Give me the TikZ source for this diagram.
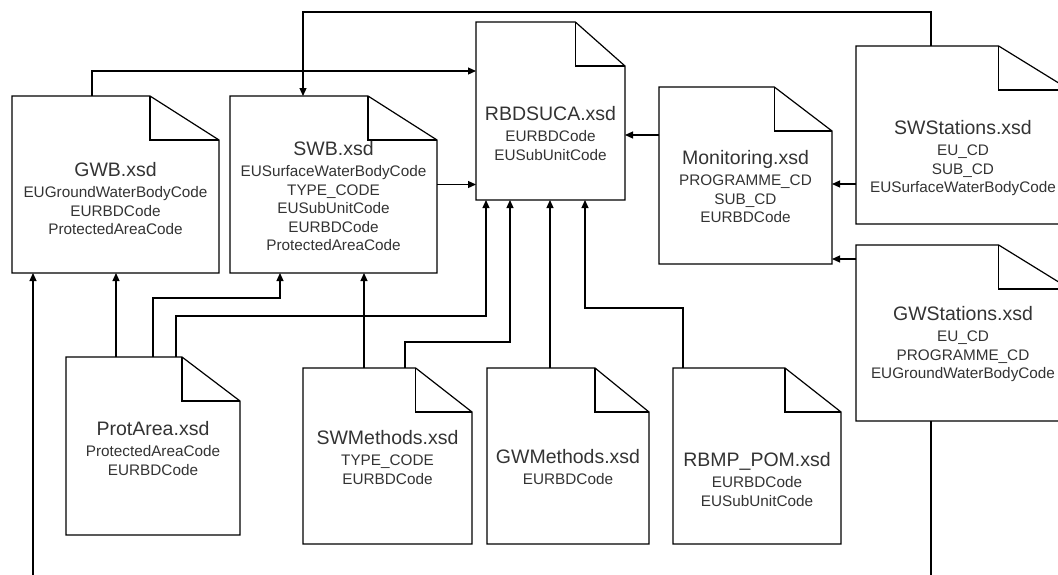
\documentclass[tikz,border=0pt]{standalone}
\usepackage{fontspec}
\setmainfont{Liberation Sans}
\usepackage{xcolor}
\usepackage{tikz}
\usetikzlibrary{arrows.meta,calc}
\definecolor{txtgray}{HTML}{333333}
\newcommand{\xsdname}[1]{{\fontsize{19.5}{18.5}\selectfont #1}}

\begin{document}
\begin{tikzpicture}[x=1pt, y=-1pt, >={Triangle[length=8pt,width=7pt]}, line width=1.2pt,
  doc/.style={draw=none,inner sep=0pt,outer sep=0pt},
  xsdtext/.style={anchor=north,align=center,inner sep=0pt,text=txtgray,font=\fontsize{15.3}{18.5}\selectfont}]
\clip (0,0) rectangle (1058,574);
% document boxes
\node[doc,minimum width=207,minimum height=177] (gwb) at (115.5,184.5) {};
\node[doc,minimum width=207,minimum height=177] (swb) at (333.5,184.5) {};
\node[doc,minimum width=149,minimum height=178] (rbd) at (550.5,111) {};
\node[doc,minimum width=173,minimum height=177] (mon) at (745.5,175.5) {};
\node[doc,minimum width=214,minimum height=178] (sws) at (963,135) {};
\node[doc,minimum width=214,minimum height=176] (gws) at (963,333) {};
\node[doc,minimum width=174,minimum height=178] (prot) at (153,446) {};
\node[doc,minimum width=169,minimum height=176] (swm) at (387.5,456) {};
\node[doc,minimum width=162,minimum height=176] (gwm) at (568,456) {};
\node[doc,minimum width=168,minimum height=176] (rbmp) at (757,456) {};
\foreach \n in {gwb,swb,rbd,mon,sws,gws,prot,swm,gwm,rbmp}{
  \draw (\n.south west) -- (\n.north west) -- ($(\n.north west)!2/3!(\n.north east)$) coordinate (f)
    -- ([yshift=-44pt]\n.north east) -- (\n.south east) -- cycle;
  \draw (f) |- ([yshift=-44pt]\n.north east);
}
% texts
\node[xsdtext] (gwb-t) at (115.5,162) {\xsdname{GWB.xsd}\\[2.5pt]EUGroundWaterBodyCode\\EURBDCode\\ProtectedAreaCode};
\node[xsdtext] (swb-t) at (333.5,141) {\xsdname{SWB.xsd}\\[2.5pt]EUSurfaceWaterBodyCode\\TYPE\_CODE\\EUSubUnitCode\\EURBDCode\\ProtectedAreaCode};
\node[xsdtext] (rbd-t) at (550.5,106) {\xsdname{RBDSUCA.xsd}\\[2.5pt]EURBDCode\\EUSubUnitCode};
\node[xsdtext] (mon-t) at (745.5,150) {\xsdname{Monitoring.xsd}\\[2.5pt]PROGRAMME\_CD\\SUB\_CD\\EURBDCode};
\node[xsdtext] (sws-t) at (963,120) {\xsdname{SWStations.xsd}\\[2.5pt]EU\_CD\\SUB\_CD\\EUSurfaceWaterBodyCode};
\node[xsdtext] (gws-t) at (963,306) {\xsdname{GWStations.xsd}\\[2.5pt]EU\_CD\\PROGRAMME\_CD\\EUGroundWaterBodyCode};
\node[xsdtext] (prot-t) at (153,421) {\xsdname{ProtArea.xsd}\\[2.5pt]ProtectedAreaCode\\EURBDCode};
\node[xsdtext] (swm-t) at (387.5,430) {\xsdname{SWMethods.xsd}\\[2.5pt]TYPE\_CODE\\EURBDCode};
\node[xsdtext] (gwm-t) at (568,449) {\xsdname{GWMethods.xsd}\\[2.5pt]EURBDCode};
\node[xsdtext] (rbmp-t) at (757,452) {\xsdname{RBMP\_POM.xsd}\\[2.5pt]EURBDCode\\EUSubUnitCode};
% references
\draw[->] (gwb.north -| 92,0) |- (rbd.west |- 0,71);
\draw[->] (sws.north -| 931,0) -- (931,12) -| (swb.north -| 303,0);
\draw[->] (swb.east) -- (rbd.west |- swb.east);
\draw[->] (mon.west |- 0,135) -- (rbd.east |- 0,135);
\draw[->] (sws.west |- 0,184) -- (mon.east |- 0,184);
\draw[->] (gws.west |- 0,259) -- (mon.east |- 0,259);
\draw[->] (gws.south -| 931,0) -- (931,590) -| (gwb.south -| 33,0);
\draw[->] (prot.north -| 116,0) -- (gwb.south -| 116,0);
\draw[->] (prot.north -| 153,0) |- (280,298) -- (swb.south -| 280,0);
\draw[->] (prot.north -| 176,0) |- (486,316) -- (rbd.south -| 486,0);
\draw[->] (swm.north -| 364,0) -- (swb.south -| 364,0);
\draw[->] (swm.north -| 405,0) |- (510,342) -- (rbd.south -| 510,0);
\draw[->] (gwm.north -| 550,0) -- (rbd.south -| 550,0);
\draw[->] (rbmp.north -| 683,0) |- (585,308) -- (rbd.south -| 585,0);
\end{tikzpicture}
\end{document}
